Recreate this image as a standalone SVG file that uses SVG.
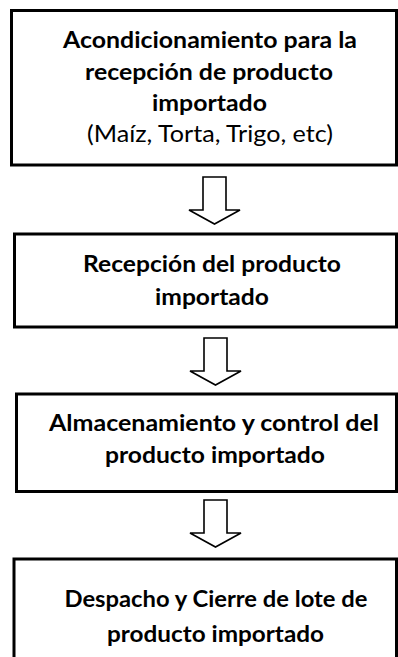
<svg xmlns="http://www.w3.org/2000/svg" width="398" height="657" viewBox="0 0 398 657">
<style>
.box{fill:#fff;stroke:#000;stroke-width:3}
.t{font-family:Lato,"Open Sans","Liberation Sans",sans-serif;font-size:23px;font-weight:bold;fill:#000;text-anchor:middle}
.r{font-weight:normal}
.arr{fill:#fff;stroke:#000;stroke-width:1.6;stroke-linejoin:miter}
</style>
<defs>
<path id="blk" d="M0,0 H23 V33 H37 L11.5,47 L-14,33 H0 Z"/>
</defs>
<rect width="398" height="657" fill="#fff"/>
<g id="n1">
<rect class="box" x="11.5" y="10.5" width="385" height="154.5"/>
<text class="t" x="210" y="48" textLength="294" lengthAdjust="spacingAndGlyphs">Acondicionamiento para la</text>
<text class="t" x="209" y="80" textLength="248" lengthAdjust="spacingAndGlyphs">recepción de producto</text>
<text class="t" x="209.5" y="111" textLength="115" lengthAdjust="spacingAndGlyphs">importado</text>
<text class="t r" x="210" y="142" textLength="246" lengthAdjust="spacingAndGlyphs">(Maíz, Torta, Trigo, etc)</text>
</g>
<g id="n2">
<rect class="box" x="14.5" y="234" width="382" height="93"/>
<text class="t" x="212" y="272" textLength="258" lengthAdjust="spacingAndGlyphs">Recepción del producto</text>
<text class="t" x="212" y="305" textLength="114" lengthAdjust="spacingAndGlyphs">importado</text>
</g>
<g id="n3">
<rect class="box" x="16.5" y="394" width="380" height="97.5"/>
<text class="t" x="214" y="431" textLength="330" lengthAdjust="spacingAndGlyphs">Almacenamiento y control del</text>
<text class="t" x="215" y="463" textLength="220" lengthAdjust="spacingAndGlyphs">producto importado</text>
</g>
<g id="n4">
<rect class="box" x="14" y="559" width="382.5" height="120"/>
<text class="t" x="216" y="607" textLength="303" lengthAdjust="spacingAndGlyphs">Despacho y Cierre de lote de</text>
<text class="t" x="215.5" y="642" textLength="217" lengthAdjust="spacingAndGlyphs">producto importado</text>
</g>
<g id="connectors">
<use href="#blk" class="arr" transform="translate(203,177)"/>
<use href="#blk" class="arr" transform="translate(204,338)"/>
<use href="#blk" class="arr" transform="translate(204,500)"/>
</g>
</svg>
